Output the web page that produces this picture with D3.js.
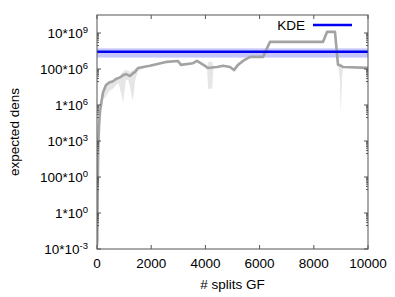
<!DOCTYPE html>
<html lang="en">
<head>
    <meta charset="UTF-8">
    <title>expected dens vs # splits GF</title>
    <script src="https://d3js.org/d3.v7.min.js"></script>
    <style>
        body { margin: 0; background: #fff; }
        text { font-family: "Liberation Sans", Arial, sans-serif; fill: #000; }
    </style>
</head>
<body>
    <div id="chart"></div>

    <script>
        // # splits GF
        const splits = [0, 11, 22, 44, 74, 111, 221, 332, 450, 590, 700, 800, 900, 960, 1000,
            1070, 1150, 1218, 1300, 1340, 1402, 1513, 1956, 2583, 2989, 3100, 3542, 3690, 3985,
            4060, 4100, 4250, 4300, 4428, 4649, 4908, 5055, 5203, 5387, 5646, 6125, 6384, 8339,
            8487, 8782, 8893, 8960, 9000, 9040, 9077, 10000];
        // expected density (grey curve)
        const densMean = [1.6e-2, 3.2e-2, 5, 3.2e3, 6.3e4, 5.0e5, 5.0e6, 1.3e7, 1.8e7, 2.1e7, 2.8e7,
            3.2e7, 3.8e7, 4.5e7, 4.8e7, 5.2e7, 4.6e7, 4.1e7, 5.2e7, 6.0e7, 6.8e7, 1.15e8, 1.5e8,
            2.5e8, 2.8e8, 1.7e8, 2.1e8, 2.8e8, 1.5e8, 1.2e8, 1.15e8, 1.2e8, 1.25e8, 1.3e8, 1.5e8,
            1.3e8, 8.7e7, 1.7e8, 2.8e8, 4.7e8, 4.7e8, 3.2e9, 3.2e9, 1.15e10, 1.15e10, 1.7e8, 1.6e8,
            1.5e8, 1.4e8, 1.3e8, 1.15e8];
        // light grey spread around the curve
        const densLow = [1e-2, 1e-2, 0.1, 3e2, 1e4, 1e5, 2e6, 3e6, 6e6, 8e6, 1.3e7, 1.6e7, 4e6,
            1.3e6, 4e6, 2.5e7, 2.5e7, 1e7, 2e6, 2.5e6, 2e7, 8e7, 1.5e8, 2.5e8, 2.8e8, 1.7e8, 2.1e8,
            2.8e8, 1.5e8, 1.2e8, 8e6, 8e6, 1.25e8, 1.3e8, 1.5e8, 1.3e8, 8.7e7, 1.7e8, 2.8e8, 4.7e8,
            4.7e8, 3.2e9, 3.2e9, 1.15e10, 1.15e10, 1.7e8, 3e7, 2.5e5, 3e7, 1.3e8, 1.15e8];
        const densHigh = [1.6e-2, 3.2e-2, 5, 3.2e3, 6.3e4, 5.0e5, 5.0e6, 1.3e7, 1.8e7, 2.1e7, 2.8e7,
            3.2e7, 5.5e7, 7e7, 8e7, 9e7, 8e7, 7e7, 8e7, 9e7, 1.0e8, 1.3e8, 1.5e8, 2.5e8, 2.8e8,
            1.7e8, 2.1e8, 2.8e8, 1.5e8, 1.2e8, 2.5e8, 2.5e8, 1.25e8, 1.3e8, 1.5e8, 1.3e8, 8.7e7,
            1.7e8, 2.8e8, 4.7e8, 4.7e8, 3.2e9, 3.2e9, 1.15e10, 1.15e10, 1.7e8, 2e8, 2e8, 2e8, 1.3e8,
            1.15e8];

        // KDE reference level and its band
        const kdeValue = 9.1e8;
        const kdeLow = 4.3e8;
        const kdeHigh = 1.4e9;

        // axes
        const xTicks = [0, 2000, 4000, 6000, 8000, 10000];
        const yTicks = [1e-2, 1, 1e2, 1e4, 1e6, 1e8, 1e10];
        const yTickMant = ["10", "1", "100", "10", "1", "100", "10"];
        const yTickExp = ["-3", "0", "0", "3", "6", "6", "9"];
        const yMinorDecades = [-1, 1, 3, 5, 7, 9];

        const width = 395, height = 297;
        const pLeft = 97, pRight = 368, pTop = 15, pBottom = 249;

        const svg = d3.select("#chart").append("svg")
            .attr("width", width)
            .attr("height", height);

        const x = d3.scaleLinear().domain([0, 10000]).range([pLeft, pRight]);
        const y = d3.scaleLog().domain([1e-2, 1e11]).range([pBottom, pTop]);

        svg.append("clipPath").attr("id", "plot")
            .append("rect")
            .attr("x", pLeft).attr("y", pTop)
            .attr("width", pRight - pLeft).attr("height", pBottom - pTop);

        const rows = splits.map((s, i) => ({ s: s, m: densMean[i], lo: densLow[i], hi: densHigh[i] }));
        const g = svg.append("g").attr("clip-path", "url(#plot)");

        // grey spread
        g.append("path")
            .datum(rows)
            .attr("fill", "#e6e6e6")
            .attr("d", d3.area().x(d => x(d.s)).y0(d => y(d.lo)).y1(d => y(d.hi)));

        // KDE band
        g.append("rect")
            .attr("x", x(0))
            .attr("y", y(kdeHigh))
            .attr("width", x(10000) - x(0))
            .attr("height", y(kdeLow) - y(kdeHigh))
            .attr("fill", "#c6c6fa");

        // grey curve
        g.append("path")
            .datum(rows)
            .attr("fill", "none")
            .attr("stroke", "#a3a3a3")
            .attr("stroke-width", 2.6)
            .attr("stroke-linejoin", "round")
            .attr("d", d3.line().x(d => x(d.s)).y(d => y(d.m)));

        // KDE line
        g.append("line")
            .attr("x1", x(0)).attr("x2", x(10000))
            .attr("y1", y(kdeValue)).attr("y2", y(kdeValue))
            .attr("stroke", "#0000f0")
            .attr("stroke-width", 2.5);

        // ticks, mirrored on both sides
        const axisColor = "#555";
        const tk = svg.append("g").attr("stroke", axisColor).attr("stroke-width", 1);
        xTicks.forEach(v => {
            tk.append("line").attr("x1", x(v)).attr("x2", x(v)).attr("y1", pBottom).attr("y2", pBottom - 4);
            tk.append("line").attr("x1", x(v)).attr("x2", x(v)).attr("y1", pTop).attr("y2", pTop + 4);
        });
        yTicks.forEach(v => {
            tk.append("line").attr("x1", pLeft).attr("x2", pLeft + 4).attr("y1", y(v)).attr("y2", y(v));
            tk.append("line").attr("x1", pRight).attr("x2", pRight - 4).attr("y1", y(v)).attr("y2", y(v));
        });
        yMinorDecades.forEach(e => {
            d3.range(2, 10).forEach(m => {
                const v = m * Math.pow(10, e);
                tk.append("line").attr("x1", pLeft).attr("x2", pLeft + 2).attr("y1", y(v)).attr("y2", y(v));
                tk.append("line").attr("x1", pRight).attr("x2", pRight - 2).attr("y1", y(v)).attr("y2", y(v));
            });
        });

        // frame
        svg.append("rect")
            .attr("x", pLeft).attr("y", pTop)
            .attr("width", pRight - pLeft).attr("height", pBottom - pTop)
            .attr("fill", "none")
            .attr("stroke", axisColor)
            .attr("stroke-width", 1);

        // tick labels
        svg.append("g").selectAll("text")
            .data(xTicks)
            .enter()
            .append("text")
            .attr("x", d => x(d))
            .attr("y", 268)
            .attr("text-anchor", "middle")
            .attr("font-size", 13.5)
            .text(d => d);

        const yl = svg.append("g").selectAll("text")
            .data(yTicks)
            .enter()
            .append("text")
            .attr("x", 88)
            .attr("y", d => y(d) + 4.5)
            .attr("text-anchor", "end")
            .attr("font-size", 13.5);
        yl.append("tspan").text((d, i) => yTickMant[i] + "*10");
        yl.append("tspan")
            .attr("font-size", 9.5)
            .attr("dy", -5)
            .text((d, i) => yTickExp[i]);

        // axis titles
        svg.append("text")
            .attr("x", (pLeft + pRight) / 2)
            .attr("y", 289)
            .attr("text-anchor", "middle")
            .attr("font-size", 13.5)
            .text("# splits GF");

        svg.append("text")
            .attr("transform", `translate(19,${(pTop + pBottom) / 2}) rotate(-90)`)
            .attr("text-anchor", "middle")
            .attr("font-size", 13.5)
            .text("expected dens");

        // legend
        svg.append("text")
            .attr("x", 305)
            .attr("y", 29.5)
            .attr("text-anchor", "end")
            .attr("font-size", 13.5)
            .text("KDE");
        svg.append("line")
            .attr("x1", 313).attr("x2", 352)
            .attr("y1", 25).attr("y2", 25)
            .attr("stroke", "#0000f0")
            .attr("stroke-width", 2.5);
    </script>
</body>
</html>
